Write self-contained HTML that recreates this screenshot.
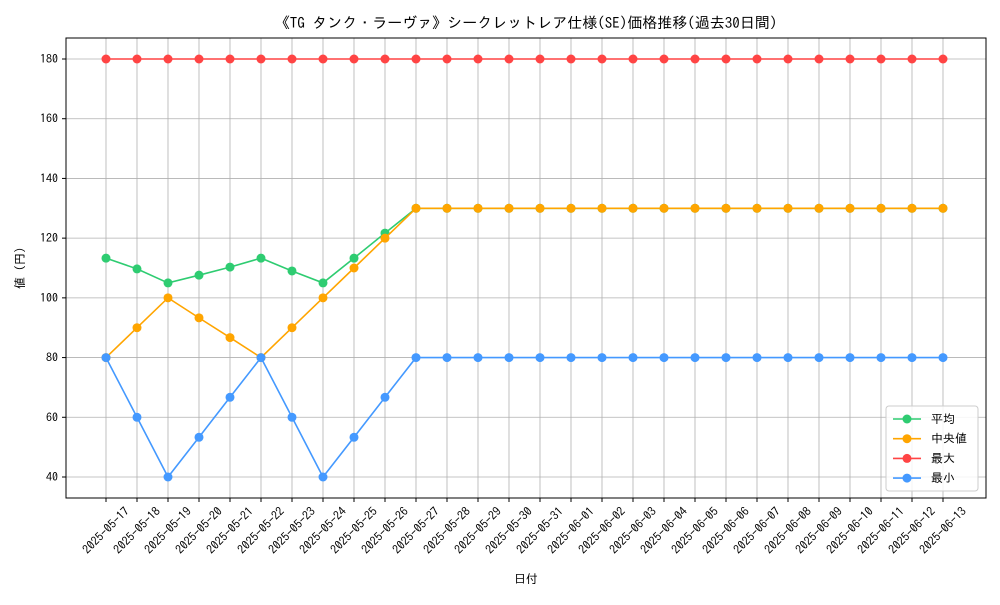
<!DOCTYPE html>
<html><head><meta charset="utf-8"><style>
body{margin:0;background:#fff}
svg{font-family:"IPAGothic","Noto Sans CJK JP",sans-serif}
</style></head><body>
<svg id="chart" width="1000" height="600" xmlns="http://www.w3.org/2000/svg">
<rect width="1000" height="600" fill="#fff"/>
<text x="526" y="28" text-anchor="middle" font-size="15">《TG タンク・ラーヴァ》シークレットレア仕様(SE)価格推移(過去30日間)</text>
<g id="grid"></g><g id="axes"></g><g id="series"></g>
<text x="526" y="583" text-anchor="middle" font-size="12">日付</text>
<text transform="translate(24,268) rotate(-90)" text-anchor="middle" font-size="12">値 (円)</text>
</svg>
<script>
const dates=["2025-05-17","2025-05-18","2025-05-19","2025-05-20","2025-05-21","2025-05-22","2025-05-23","2025-05-24","2025-05-25","2025-05-26","2025-05-27","2025-05-28","2025-05-29","2025-05-30","2025-05-31","2025-06-01","2025-06-02","2025-06-03","2025-06-04","2025-06-05","2025-06-06","2025-06-07","2025-06-08","2025-06-09","2025-06-10","2025-06-11","2025-06-12","2025-06-13"];
const meanVals=[113.3,109.7,105,107.6,110.3,113.3,109,105,113.3,121.7,130,130,130,130,130,130,130,130,130,130,130,130,130,130,130,130,130,130];
const medianVals=[80,90,100,93.3,86.7,80,90,100,110,120,130,130,130,130,130,130,130,130,130,130,130,130,130,130,130,130,130,130];
const maxVals=[180,180,180,180,180,180,180,180,180,180,180,180,180,180,180,180,180,180,180,180,180,180,180,180,180,180,180,180];
const minVals=[80,60,40,53.3,66.7,80,60,40,53.3,66.7,80,80,80,80,80,80,80,80,80,80,80,80,80,80,80,80,80,80];
const yTicks=[40,60,80,100,120,140,160,180];
const seriesNames=["平均","中央値","最大","最小"];
const colors=["#2ecc71","#ffa500","#ff4444","#4499ff"];
const NS="http://www.w3.org/2000/svg";
const L=66,R=986,T=38,B=498;
const xs=i=>106+i*(943-106)/(dates.length-1);
const ys=v=>477-(v-40)*(477-59)/140;
function mk(tag,attrs,parent){const e=document.createElementNS(NS,tag);for(const k in attrs)e.setAttribute(k,attrs[k]);parent.appendChild(e);return e;}
const grid=document.getElementById('grid'),axes=document.getElementById('axes'),ser=document.getElementById('series');
dates.forEach((d,i)=>{
 const g=mk('line',{x1:xs(i),x2:xs(i),y1:T,y2:B,stroke:'#b0b0b0','stroke-width':0.8},grid);
 
 
 mk('line',{x1:xs(i),x2:xs(i),y1:B,y2:B+4,stroke:'#000'},axes);
 const wrap=mk('g',{},axes);
 const t=mk('text',{transform:'rotate(-45)','text-anchor':'end','font-size':12},wrap);
 
 
 t.textContent=d;
 const bb=wrap.getBBox();
 wrap.setAttribute('transform',`translate(${xs(i)-(bb.x+bb.width/2)},${505-bb.y})`);
});
yTicks.forEach(v=>{
 const g=mk('line',{x1:L,x2:R,y1:ys(v),y2:ys(v),stroke:'#b0b0b0','stroke-width':0.8},grid);
 
 
 mk('line',{x1:L-4,x2:L,y1:ys(v),y2:ys(v),stroke:'#000'},axes);
 const t=mk('text',{x:L-8,y:ys(v)+4,'text-anchor':'end','font-size':12},axes);
 
 
 t.textContent=v;
});
const frame=mk('rect',{x:L,y:T,width:R-L,height:B-T,fill:'none',stroke:'#000','stroke-width':1},axes);


[meanVals,medianVals,maxVals,minVals].forEach((vals,si)=>{
 const g=mk('g',{},ser);
 
 
 mk('polyline',{points:vals.map((v,i)=>xs(i)+','+ys(v)).join(' '),fill:'none',stroke:colors[si],'stroke-width':1.6},g);
 vals.forEach((v,i)=>{
  const c=mk('circle',{cx:xs(i),cy:ys(v),r:4.5,fill:colors[si]},g);
  
  
 });
});
const lg=mk('g',{},ser);


mk('rect',{x:886,y:406,width:92,height:85,rx:3,fill:'#fff','fill-opacity':0.85,stroke:'#ccc'},lg);
seriesNames.forEach((n,i)=>{
 const y=419+i*19.7;
 const e=mk('g',{},lg);
 
 
 mk('line',{x1:893,x2:921,y1:y,y2:y,stroke:colors[i],'stroke-width':1.6},e);
 mk('circle',{cx:907,cy:y,r:4.5,fill:colors[i]},e);
 const t=mk('text',{x:931,y:y+4,'font-size':12},e);
 t.textContent=n;
});
</script>
</body></html>
